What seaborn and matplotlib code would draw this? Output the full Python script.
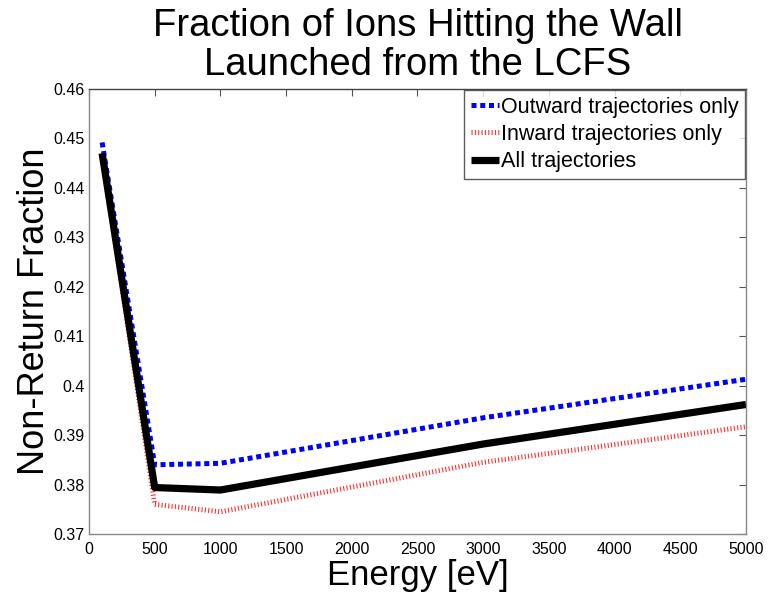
import matplotlib
matplotlib.use("Agg")
import matplotlib.pyplot as plt
import seaborn as sns
import pandas as pd

# Launch energies and non-return fractions for each trajectory set
energy = [100, 500, 1000, 3000, 5000]
outward = [0.4492, 0.3840, 0.3843, 0.3935, 0.4013]
inward = [0.4463, 0.3760, 0.3745, 0.3845, 0.3917]
all_traj = [0.4470, 0.3794, 0.3789, 0.3882, 0.3962]

series_names = ["Outward trajectories only", "Inward trajectories only", "All trajectories"]
x_ticks = [0, 500, 1000, 1500, 2000, 2500, 3000, 3500, 4000, 4500, 5000]
y_ticks = [0.37, 0.38, 0.39, 0.40, 0.41, 0.42, 0.43, 0.44, 0.45, 0.46]
y_tick_labels = ["0.37", "0.38", "0.39", "0.4", "0.41", "0.42", "0.43", "0.44", "0.45", "0.46"]

sns.set_style("white")
plt.rcParams["font.family"] = ["Liberation Sans", "DejaVu Sans"]
plt.rcParams["text.color"] = "black"
plt.rcParams["axes.labelcolor"] = "black"
plt.rcParams["xtick.color"] = "black"
plt.rcParams["ytick.color"] = "black"

fig = plt.figure(figsize=(7.71, 5.95), dpi=100)
ax = fig.add_axes([0.1154, 0.1025, 0.8522, 0.7479])

styles = [
    dict(color="#0000ff", linewidth=3.6, linestyle=(0, (1.0, 0.75)), dash_capstyle="butt"),
    dict(color="#ff3030", linewidth=3.6, linestyle=(0, (0.22, 0.45)), dash_capstyle="butt"),
    dict(color="#000000", linewidth=5.2, linestyle="-", solid_capstyle="butt"),
]

for name, vals, st in zip(series_names, [outward, inward, all_traj], styles):
    df = pd.DataFrame({"Energy": energy, "Fraction": vals})
    sns.lineplot(data=df, x="Energy", y="Fraction", ax=ax, label=name, **st)

ax.set_xlim(0, 5000)
ax.set_ylim(0.37, 0.46)
ax.set_xticks(x_ticks)
ax.set_xticklabels([str(t) for t in x_ticks])
ax.set_yticks(y_ticks)
ax.set_yticklabels(y_tick_labels)

ax.tick_params(axis="both", which="both", direction="in", length=5, width=0.8,
               color="#555555", labelcolor="black", labelsize=11.5,
               top=True, right=True, labeltop=False, labelright=False)
ax.tick_params(axis="x", pad=6)
ax.tick_params(axis="y", pad=3)
for side in ["left", "bottom", "right", "top"]:
    ax.spines[side].set_color("#888888" if side != "top" else "#444444")
    ax.spines[side].set_linewidth(1.0)

ax.set_xlabel("Energy [eV]", fontsize=25, labelpad=1, color="black")
ax.set_ylabel("Non-Return Fraction", fontsize=26, labelpad=1, color="black")
ax.set_title("Fraction of Ions Hitting the Wall\nLaunched from the LCFS", fontsize=27.5,
             pad=10, linespacing=1.1, color="black")

leg = ax.legend(loc="upper right", fontsize=15.5, frameon=True, fancybox=False,
                borderaxespad=0.05, handlelength=1.3, handletextpad=0.1,
                labelspacing=0.3, borderpad=0.3)
leg.get_frame().set_edgecolor("#333333")
leg.get_frame().set_linewidth(1.0)
for t in leg.get_texts():
    t.set_color("black")

fig.savefig("out.png", dpi=100, facecolor="white")
